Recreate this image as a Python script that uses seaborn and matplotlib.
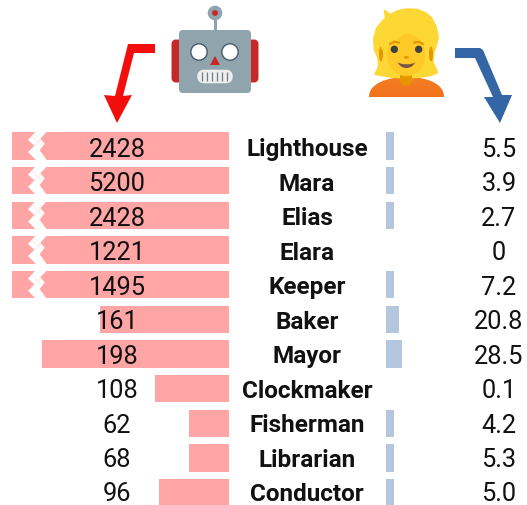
import numpy as np
import pandas as pd
import matplotlib
matplotlib.use('Agg')
import matplotlib.pyplot as plt
from matplotlib.patches import Circle, Ellipse, FancyBboxPatch, PathPatch, Polygon, Rectangle
from matplotlib.path import Path
import seaborn as sns

# values
names = ['Lighthouse', 'Mara', 'Elias', 'Elara', 'Keeper', 'Baker', 'Mayor',
         'Clockmaker', 'Fisherman', 'Librarian', 'Conductor']
llm_labels = ['2428', '5200', '2428', '1221', '1495', '161', '198', '108', '62', '68', '96']
human_labels = ['5.5', '3.9', '2.7', '0', '7.2', '20.8', '28.5', '0.1', '4.2', '5.3', '5.0']
# drawn lengths do not follow the labels exactly (top bars are cut)
llm_lengths = [217, 217, 217, 217, 217, 129, 187, 74, 40, 40, 70]
human_lengths = [8.5, 8.5, 8.5, 0, 8.5, 13.5, 16.5, 0, 8.5, 8.5, 8.5]
broken = [True, True, True, True, True, False, False, False, False, False, False]

W, H = 527, 506
RED_BAR = '#FFA5A5'
BLUE_BAR = '#B4C7DE'

sns.set_theme(style='white')
plt.rcParams['font.family'] = ['Roboto', 'DejaVu Sans']

df = pd.DataFrame({'name': names, 'llm': llm_lengths, 'human': human_lengths})

fig = plt.figure(figsize=(W / 100, H / 100), dpi=100)
ax_l = fig.add_axes([0, 0, 229 / W, 1])
ax_r = fig.add_axes([385.5 / W, 0, (W - 385.5) / W, 1])

sns.barplot(data=df, y='name', x='llm', order=names, color=RED_BAR, saturation=1,
            width=0.795, ax=ax_l, linewidth=0)
sns.barplot(data=df, y='name', x='human', order=names, color=BLUE_BAR, saturation=1,
            width=0.795, ax=ax_r, linewidth=0)

# one data unit = one pixel across, rows 34.67 px apart
row_lim = ((H - 147) / 34.67, -147 / 34.67)
ax_l.set_xlim(229, 0)
ax_l.set_ylim(*row_lim)
ax_r.set_xlim(0, W - 385.5)
ax_r.set_ylim(*row_lim)
ax_l.axis('off')
ax_r.axis('off')

# the labels sit a little tighter than the bars
for i, name in enumerate(names):
    ty = 0.01 + i * 0.994
    ax_l.text(112, ty, llm_labels[i], ha='center', va='center_baseline', fontsize=18.3, color='#111111')
    ax_r.text(-78.5, ty, name, ha='center', va='center_baseline', fontsize=17.5, fontweight='bold',
              color='#111111', clip_on=False)
    ax_r.text(113.5, ty, human_labels[i], ha='center', va='center_baseline', fontsize=18.3, color='#111111')

# overlay in pixel coordinates for breaks, arrows and emoji
ov = fig.add_axes([0, 0, 1, 1], zorder=5)
ov.set_xlim(0, W)
ov.set_ylim(H, 0)
ov.axis('off')
ov.patch.set_alpha(0)

# white zigzag breaks on the cut bars
for i, is_broken in enumerate(broken):
    if not is_broken:
        continue
    cy = 147 + 34.67 * i
    zig = [(35.7, -14.5), (28, -6), (34.7, 0), (28, 6), (36.3, 14.5),
           (47, 14.5), (39.7, 4.3), (44.7, -2.3), (40.3, -7.3), (47, -14.5)]
    ov.add_patch(Polygon([(x, cy + y) for x, y in zig], closed=True, fc='white', ec='none'))
    ov.plot([32, 41], [cy - 10, cy - 1], color='#FFE4E4', lw=0.5)
    ov.plot([32, 40], [cy + 2, cy - 6], color='#FFE4E4', lw=0.5)

# red arrow
ov.add_patch(Polygon([(155, 45), (128, 45), (115, 97), (104, 96), (117, 124), (132, 96),
                      (123, 97), (134, 54), (155, 54)], closed=True, fc='#F40D0D', ec='none'))
# blue arrow
ov.add_patch(Polygon([(455, 49), (480, 49), (483, 51), (502, 96), (512, 96), (500, 124), (484, 98),
                      (493, 98), (475, 59), (455, 59)], closed=True, fc='#3465A4', ec='none'))

# robot
GREY = '#90A4AE'
DARK_RED = '#C62828'
ov.add_patch(FancyBboxPatch((175, 44), 80, 36, boxstyle='round,pad=0,rounding_size=1', fc=DARK_RED, ec=DARK_RED, lw=5))
ov.add_patch(Rectangle((213.5, 18), 3, 15, fc=GREY, ec='none'))
ov.add_patch(Circle((215, 14), 7.3, fc=GREY, ec='none'))
ov.add_patch(Circle((215, 14), 2.9, fc=DARK_RED, ec='none'))
ov.add_patch(FancyBboxPatch((182, 34), 66, 57, boxstyle='round,pad=3,rounding_size=4', fc=GREY, ec='none'))
for ex in (199, 230):
    ov.add_patch(Circle((ex, 53), 8.2, fc='white', ec='#4A5A62', lw=1.0))
ov.add_patch(Polygon([(210, 66), (220, 66), (215, 57)], closed=True, fc=DARK_RED, ec='none'))
ov.add_patch(FancyBboxPatch((200, 73.5), 30, 8, boxstyle='round,pad=0,rounding_size=4', fc='#EEEEEE', ec='#EEEEEE', lw=4))
for mx in range(202, 232, 5):
    ov.plot([mx, mx], [73, 82], color='#6B7B83', lw=0.9, solid_capstyle='butt')

# person, outline points taken from a 3x crop
HAIR = '#FDD835'
SKIN = '#FFCA28'
NECK = '#E59600'


def z(x, y):
    return (362 + x / 3, 5 + y / 3)


body = Path([(369, 98), (369, 84), (388, 78), (407, 78), (426, 78), (444, 84), (444, 98), (369, 98)],
            [Path.MOVETO, Path.CURVE4, Path.CURVE4, Path.CURVE4, Path.CURVE4, Path.CURVE4, Path.CURVE4, Path.CLOSEPOLY])
grad = ov.imshow(np.linspace(0, 1, 30).reshape(-1, 1), extent=(369, 444, 98, 77), aspect='auto', zorder=2,
                 cmap=matplotlib.colors.LinearSegmentedColormap.from_list('b', ['#F47F24', '#F2711C']))
body_patch = PathPatch(body, fc='none', ec='none', transform=ov.transData)
ov.add_patch(body_patch)
grad.set_clip_path(body_patch)
ov.set_xlim(0, W)
ov.set_ylim(H, 0)

hair_pts = [(68, 20), (85, 33), (105, 22), (130, 16), (165, 17), (190, 27), (208, 42), (222, 70), (228, 100),
            (222, 125), (214, 145), (212, 175), (226, 205), (205, 214), (170, 219), (130, 221), (90, 219),
            (60, 214), (40, 210), (50, 190), (50, 165), (38, 135), (36, 105), (45, 72), (62, 52), (72, 42)]
ov.add_patch(Polygon([z(*p) for p in hair_pts], closed=True, fc=HAIR, ec=HAIR, lw=1.5, joinstyle='round', zorder=3))
ov.add_patch(Ellipse(z(57, 150), 4, 15, fc=NECK, ec='none', zorder=3.5))
ov.add_patch(Ellipse(z(207, 150), 4, 15, fc=NECK, ec='none', zorder=3.5))
ov.add_patch(Polygon([z(114, 205), z(150, 205), z(150, 232), z(140, 245), z(124, 245), z(114, 232)],
                     closed=True, fc=NECK, ec='none', zorder=4))
ov.add_patch(Ellipse(z(132, 152), 38.5, 43, fc=SKIN, ec='none', zorder=5))
fringe = [(60, 135), (74, 130), (88, 116), (104, 104), (126, 88), (100, 70), (60, 100)]
ov.add_patch(Polygon([z(*p) for p in fringe], closed=True, fc=HAIR, ec=HAIR, lw=1, zorder=5.5))
for ex, ey in ((97, 136), (170, 136)):
    ov.add_patch(Circle(z(ex, ey), 3.7, fc='#404040', ec='none', zorder=6))
bx, by = zip(*[z(84, 120), z(97, 113), z(111, 116)])
ov.plot(bx, by, color=NECK, lw=1.6, zorder=6)
bx, by = zip(*[z(156, 116), z(170, 113), z(183, 120)])
ov.plot(bx, by, color=NECK, lw=1.6, zorder=6)
ov.add_patch(Ellipse(z(133, 160), 5, 3, fc=NECK, ec='none', zorder=6))
smile = Path([z(107, 175), z(118, 198), z(148, 198), z(160, 175), z(148, 183), z(120, 183), z(107, 175)],
             [Path.MOVETO, Path.CURVE4, Path.CURVE4, Path.CURVE4, Path.CURVE4, Path.CURVE4, Path.CURVE4])
ov.add_patch(PathPatch(smile, fc='#795548', ec='none', zorder=6))

fig.savefig('out.png', dpi=100)
